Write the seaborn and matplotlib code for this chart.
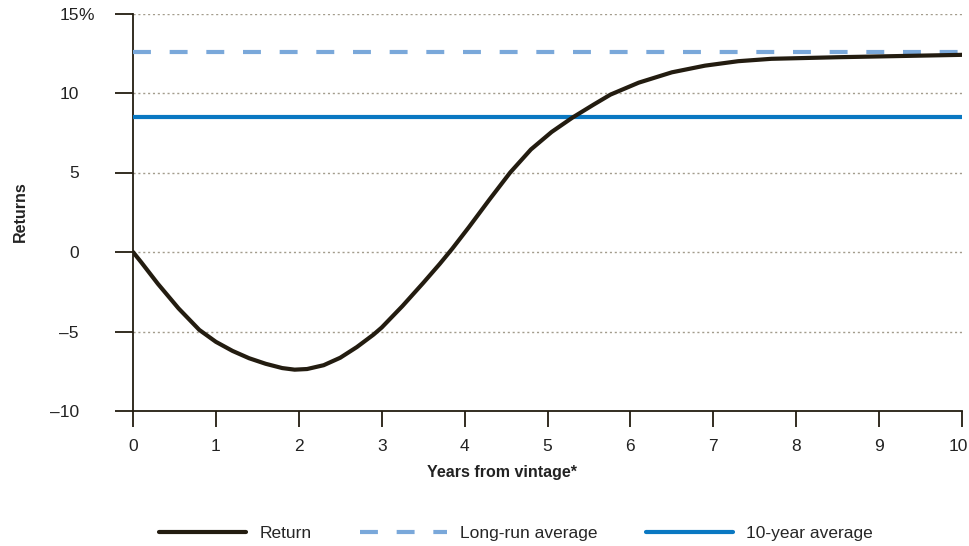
import numpy as np
import pandas as pd
import matplotlib
matplotlib.use("Agg")
import matplotlib.pyplot as plt
import matplotlib.transforms as mtransforms
import seaborn as sns

# values
years = [0, 0.1, 0.3, 0.55, 0.8, 1.0, 1.2, 1.4, 1.6, 1.8, 1.95, 2.1, 2.3, 2.5, 2.7,
         2.9, 3.0, 3.25, 3.5, 3.7, 3.85, 4.05, 4.3, 4.55, 4.8, 5.05, 5.3, 5.55, 5.76,
         6.1, 6.5, 6.9, 7.3, 7.7, 8.5, 10]
returns = [0, -0.65, -2.0, -3.55, -4.9, -5.65, -6.22, -6.68, -7.03, -7.3, -7.4, -7.36,
           -7.12, -6.65, -5.98, -5.2, -4.75, -3.4, -1.95, -0.75, 0.2, 1.55, 3.3, 5.0,
           6.45, 7.55, 8.45, 9.25, 9.9, 10.65, 11.3, 11.72, 12.0, 12.15, 12.25, 12.4]
long_run_avg = 12.6
ten_year_avg = 8.5
x_ticks = list(range(0, 11))
y_ticks = [-10, -5, 0, 5, 10, 15]
y_tick_labels = ["\u201310", "\u20135", "0", "5", "10", "15"]

sns.set_theme(style="white")
plt.rcParams["font.family"] = ["Liberation Sans", "DejaVu Sans"]

ink = "#231c10"
txt = "#222222"
fig = plt.figure(figsize=(9.7, 5.46), dpi=100)
ax = fig.add_axes([133 / 970, 1 - 411 / 546, (962 - 133) / 970, (411 - 13.5) / 546])

df = pd.DataFrame({"x": years, "y": returns})
sns.lineplot(data=df, x="x", y="y", ax=ax, color=ink, lw=3, label="Return", zorder=4)
sns.lineplot(x=[0, 10], y=[long_run_avg, long_run_avg], ax=ax, color="#7aa8da", lw=3,
             label="Long-run average", zorder=3)
ax.lines[-1].set_dashes([4.3, 4.5])
sns.lineplot(x=[0, 10], y=[ten_year_avg, ten_year_avg], ax=ax, color="#0a78c2", lw=3,
             label="10-year average", zorder=3)

ax.set_xlim(0, 10)
ax.set_ylim(-10, 15)
ax.set_xticks(x_ticks)
ax.set_yticks(y_ticks)
ax.set_yticklabels(y_tick_labels)
for y in y_ticks[1:]:
    ax.axhline(y, color="#a39c8c", lw=1, ls=(0, (1.5, 2)), zorder=1)

for s in ["top", "right"]:
    ax.spines[s].set_visible(False)
for s in ["left", "bottom"]:
    ax.spines[s].set_color(ink)
    ax.spines[s].set_linewidth(1.3)
ax.tick_params(axis="y", direction="out", length=13, width=1.3, color=ink, pad=26,
               labelsize=12.5, labelcolor=txt)
ax.tick_params(axis="x", direction="out", length=11.5, width=1.3, color=ink, pad=9,
               labelsize=12.5, labelcolor=txt)
ax.tick_params(left=True, bottom=True)

# percent sign hangs to the right of the top label
ax.annotate("%", xy=(0, 15), xycoords=("axes fraction", "data"), xytext=(-39.5, 0),
            textcoords="offset points", ha="left", va="center_baseline", fontsize=12.5,
            color=txt, annotation_clip=False)

# last x label sits a little left so it is not clipped
last = ax.get_xticklabels()[-1]
last.set_transform(last.get_transform() +
                   mtransforms.ScaledTranslation(-4 / 100, 0, fig.dpi_scale_trans))

ax.set_xlabel("")
ax.set_ylabel("")
fig.text(502 / 970, 1 - 472 / 546, "Years from vintage*", ha="center", va="center",
         fontsize=11.5, fontweight="bold", color=txt)
fig.text(20 / 970, 1 - 212 / 546, "Returns", ha="center", va="center", rotation=90,
         fontsize=11.5, fontweight="bold", color=txt)

ax.legend(loc="center", bbox_to_anchor=(516 / 970, 1 - 533 / 546),
          bbox_transform=fig.transFigure, ncol=3, frameon=False, fontsize=12.5,
          handlelength=5.0, handletextpad=0.75, columnspacing=2.8)

fig.savefig("out.png", dpi=100)
